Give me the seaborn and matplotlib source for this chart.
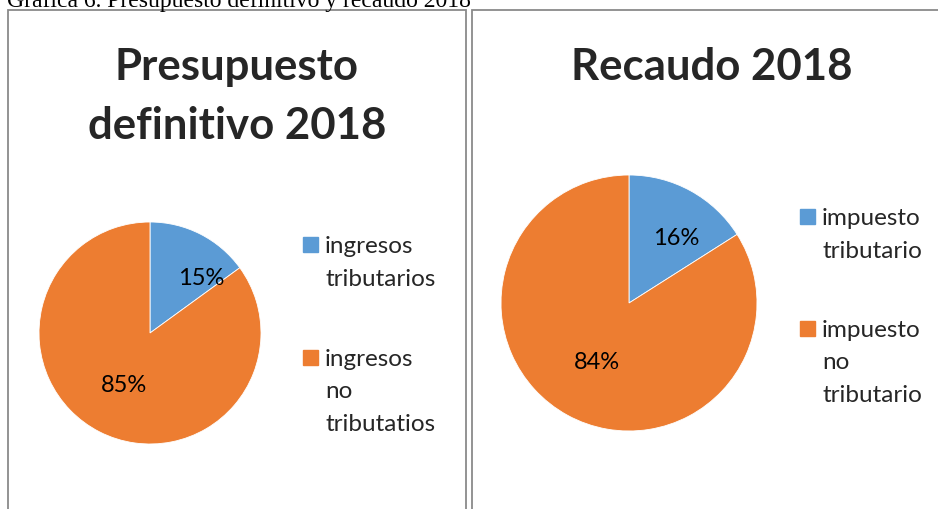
import matplotlib
matplotlib.use("Agg")
import matplotlib.pyplot as plt
import seaborn as sns
from matplotlib.patches import Rectangle
import numpy as np

# datos
categorias_presupuesto = ["ingresos\ntributarios", "ingresos\nno\ntributatios"]
valores_presupuesto = [15, 85]
categorias_recaudo = ["impuesto\ntributario", "impuesto\nno\ntributario"]
valores_recaudo = [16, 84]

titulo_presupuesto = ["Presupuesto", "definitivo 2018"]
titulo_recaudo = ["Recaudo 2018"]
leyenda_grafica = "Gráfica 6. Presupuesto definitivo y recaudo 2018"

colores = ["#5B9BD5", "#ED7D31"]

sns.set_theme(style="white")
plt.rcParams["font.family"] = ["Lato", "DejaVu Sans"]

W, H = 938, 510
fig = plt.figure(figsize=(W / 100, H / 100), dpi=100)


def fx(px):
    return px / W


def fy(py):
    return 1 - py / H


# leyenda de la grafica (cortada arriba como en el documento)
fig.text(fx(7), fy(7), leyenda_grafica, family="Liberation Serif", size=17,
         va="baseline", ha="left", color="black")

# marcos
fig.add_artist(Rectangle((fx(8), -0.1), fx(466) - fx(8), fy(11) + 0.1,
                         transform=fig.transFigure, fill=False,
                         ec="#8a8a8a", lw=1.3, clip_on=False))
fig.add_artist(Rectangle((fx(472), -0.1), 1.0, fy(11) + 0.1,
                         transform=fig.transFigure, fill=False,
                         ec="#8a8a8a", lw=1.3, clip_on=False))


def dibujar_pie(cx, cy, r, valores, dist):
    ax = fig.add_axes([fx(cx - r), fy(cy + r), 2 * r / W, 2 * r / H])
    wedges, textos, autotextos = ax.pie(
        valores, colors=colores, startangle=90, counterclock=False,
        autopct="%1.0f%%", pctdistance=0.5, radius=1,
        wedgeprops=dict(linewidth=0.6, edgecolor="white"),
        textprops=dict(size=17, color="black"))
    for w, t, d in zip(wedges, autotextos, dist):
        ang = np.deg2rad((w.theta1 + w.theta2) / 2) + d[1]
        t.set_position((d[0] * np.cos(ang), d[0] * np.sin(ang)))
    ax.set_xlim(-1, 1)
    ax.set_ylim(-1, 1)
    return ax


dibujar_pie(150, 334, 111, valores_presupuesto, [(0.68, -0.28), (0.52, 0.0)])
dibujar_pie(629, 304, 128, valores_recaudo, [(0.63, -0.12), (0.52, 0.0)])


# titulos
def titulo(cx, lineas):
    for i, linea in enumerate(lineas):
        fig.text(fx(cx), fy(80 + i * 59), linea, ha="center", va="baseline",
                 size=31.5, weight="bold")


titulo(237, titulo_presupuesto)
titulo(712, titulo_recaudo)


def leyenda(x0, y0, gap, categorias):
    y = y0
    for cat, col in zip(categorias, colores):
        fig.add_artist(Rectangle((fx(x0), fy(y)), 15 / W, 15 / H,
                                 transform=fig.transFigure, color=col))
        lineas = cat.split("\n")
        for i, linea in enumerate(lineas):
            fig.text(fx(x0 + 22), fy(y + i * 32.5), linea, size=17.5,
                     va="baseline", ha="left")
        y += gap


leyenda(303, 253, 113, categorias_presupuesto)
leyenda(800, 225, 112, categorias_recaudo)

fig.savefig("out.png", dpi=100)
